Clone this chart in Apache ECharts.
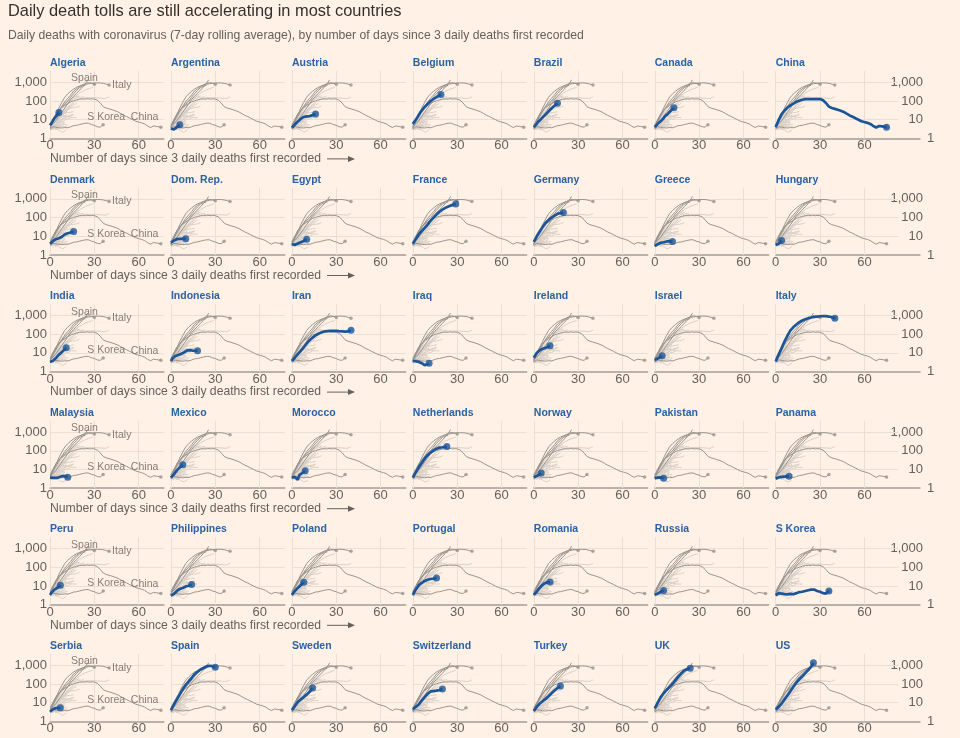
<!DOCTYPE html>
<html>
<head>
<meta charset="utf-8">
<script src="https://cdn.jsdelivr.net/npm/echarts@6/dist/echarts.min.js"></script>
<style>
html,body{margin:0;padding:0;background:#fff1e5;}
#c{width:960px;height:738px;}
</style>
</head>
<body>
<div id="c"></div>
<script>
// ---------- DATA (day since 3 daily deaths, 7-day avg daily deaths) ----------
const countries = ['Algeria','Argentina','Austria','Belgium','Brazil','Canada','China',
  'Denmark','Dom. Rep.','Egypt','France','Germany','Greece','Hungary',
  'India','Indonesia','Iran','Iraq','Ireland','Israel','Italy',
  'Malaysia','Mexico','Morocco','Netherlands','Norway','Pakistan','Panama',
  'Peru','Philippines','Poland','Portugal','Romania','Russia','S Korea',
  'Serbia','Spain','Sweden','Switzerland','Turkey','UK','US'];

const dAlgeria = [[0,5],[1,6.5],[2,9],[3,12],[4,15],[5,18],[6,24]];
const dArgentina = [[0,3.4],[1,3.1],[2,3.0],[3,3.4],[4,4],[5,4.6],[6,5.3]];
const dAustria = [[0,3.7],[1,4.5],[2,5.5],[3,7],[4,8],[5,9.5],[6,11],[7,12.5],[8,14],[9,15.5],[10,15],[11,16],[12,15.5],[13,17],[14,17.5],[15,18.5],[16,20]];
const dBelgium = [[0,6],[1,7.5],[2,10],[3,13],[4,18],[5,24],[6,31],[7,38],[8,48],[9,58],[10,70],[11,83],[12,100],[13,113],[14,130],[15,145],[16,160],[17,180],[18,200],[19,225]];
const dBrazil = [[0,4],[1,5],[2,6],[3,7.8],[4,9.5],[5,11],[6,13.5],[7,16],[8,20],[9,23],[10,28],[11,34],[12,40],[13,48],[14,55],[15,65],[16,75]];
const dCanada = [[0,4],[1,5],[2,6],[3,7],[4,8.2],[5,9],[6,12],[7,15.5],[8,18],[9,21],[10,26],[11,31],[12,37],[13,44]];
const dChina = [[0,4],[2,9.5],[4,20],[6,31],[8,45],[10,58],[12,72],[14,90],[16,103],[18,116],[20,126],[22,128],[24,127],[25,134],[27,126],[28,131],[30,127],[32,110],[34,78],[36,50],[38,42],[40,38],[42,34],[44,30],[46,26],[48,21],[50,17],[52,14.5],[54,12],[56,10],[58,8.3],[60,7.5],[62,6.8],[64,5.9],[66,4.6],[68,3.8],[70,4.6],[72,4.4],[75,4]];
const dDenmark = [[0,4],[1,4.8],[2,5.5],[3,6.5],[4,7],[5,7.5],[6,7.8],[7,8.5],[8,9.5],[9,11],[10,12.5],[11,14],[12,14.5],[13,15],[14,16],[15,17],[16,18]];
const dDomRep = [[0,4.5],[1,5.2],[2,6],[3,6.8],[4,7],[5,7.2],[6,7.3],[7,7.2],[8,7.3],[9,7.4],[10,7.5]];
const dEgypt = [[0,3.9],[1,3.7],[2,3.4],[3,3.6],[4,4.1],[5,4.5],[6,4.8],[7,5.2],[8,5.6],[9,6.2],[10,7]];
const dFrance = [[0,4],[2,7],[4,12.5],[6,19],[8,28],[10,42],[12,68],[14,100],[16,145],[18,205],[20,265],[22,330],[24,395],[26,450],[28,510],[29,540]];
const dGermany = [[0,5],[2,10],[4,18],[6,32],[8,52],[10,75],[12,100],[14,128],[16,160],[18,172],[20,185]];
const dGreece = [[0,3],[1,3.2],[2,3.8],[3,4.2],[4,4.5],[5,4.6],[6,4.8],[7,5],[8,5.3],[9,5.6],[10,5.5],[11,5.3],[12,5.2]];
const dHungary = [[0,3.4],[1,3.5],[2,4],[3,4.8],[4,5.9]];
const dIndia = [[0,3.3],[1,3.4],[2,3.8],[3,4.3],[4,5.3],[5,6.5],[6,8],[7,9.5],[8,11],[9,13],[10,16],[11,19]];
const dIndonesia = [[0,3.7],[1,5],[2,6],[3,6.8],[4,7.3],[5,7.8],[6,8.3],[7,9],[8,9.8],[9,10.8],[10,12],[11,13.5],[12,14.5],[13,14],[14,13.5],[15,13],[16,13],[17,12.8],[18,13]];
const dIran = [[0,3.7],[2,5.5],[4,8.5],[6,13],[8,20],[10,32],[12,48],[14,66],[16,86],[18,106],[20,125],[22,140],[24,148],[26,150],[28,149],[30,150],[32,145],[34,142],[36,138],[37,136],[38,140],[39,155],[40,165]];
const dIraq = [[0,3.7],[1,3.7],[2,3.6],[3,3.5],[4,3.3],[5,3],[6,2.8],[7,2.5],[8,2.2],[9,2.2],[10,2.5],[11,2.8]];
const dIreland = [[0,5.5],[1,7.5],[2,10],[3,12.5],[4,14],[5,15],[6,16.5],[7,17.5],[8,18.5],[9,20],[10,22],[11,24]];
const dIsrael = [[0,4.2],[1,4.5],[2,5],[3,5.3],[4,6],[5,7]];
const dItaly = [[0,3.5],[2,8],[4,18],[6,42],[8,85],[10,160],[12,240],[14,330],[16,440],[18,540],[20,630],[22,720],[24,780],[26,840],[28,880],[30,910],[32,930],[34,920],[36,880],[38,800],[40,720]];
const dMalaysia = [[0,3.7],[1,3.7],[2,3.6],[3,3.6],[4,3.5],[5,3.5],[6,3.8],[7,4.2],[8,4.4],[9,4.6],[10,4.4],[11,4.1],[12,3.9]];
const dMexico = [[0,3.7],[1,4.5],[2,5.5],[3,7],[4,9],[5,11],[6,13],[7,15.5],[8,18]];
const dMorocco = [[0,3.7],[1,3.8],[2,4],[3,4.2],[4,2.8],[5,5],[6,5.8],[7,6.5],[8,7.5],[9,8.5]];
const dNetherlands = [[0,3.7],[2,7],[4,13],[6,22],[8,38],[10,58],[12,80],[14,105],[16,130],[18,148],[20,155],[22,165],[23,170]];
const dNorway = [[0,3.9],[1,4.1],[2,4.5],[3,5],[4,5.6],[5,6.4]];
const dPakistan = [[0,3.4],[1,3.5],[2,3.7],[3,4.2],[4,3.8],[5,3.5],[6,3.4]];
const dPanama = [[0,3.2],[1,3.5],[2,3.8],[3,3.9],[4,4],[5,4.1],[6,4.2],[7,4.2],[8,4.3],[9,4.3]];
const dPeru = [[0,3.4],[1,4.5],[2,5.5],[3,6.5],[4,7.5],[5,8],[6,9.5],[7,11]];
const dPhilippines = [[0,3],[1,3.3],[2,3.8],[3,4.5],[4,5.5],[5,6.3],[6,7],[7,7.5],[8,8],[9,8.5],[10,9.5],[11,11],[12,10.5],[13,11.5],[14,12.3]];
const dPoland = [[0,3.4],[1,4.3],[2,5.5],[3,6.5],[4,8],[5,9.5],[6,11],[7,13.5],[8,16]];
const dPortugal = [[0,3.4],[1,4.8],[2,6.5],[3,8.5],[4,11],[5,13],[6,15],[7,17],[8,19],[9,20.5],[10,22],[11,23],[12,24],[13,24.5],[14,25],[15,26],[16,27]];
const dRomania = [[0,3.4],[1,4.2],[2,5],[3,6.5],[4,8],[5,10],[6,12],[7,13.5],[8,15],[9,16],[10,16.5],[11,16.5]];
const dRussia = [[0,3.4],[1,3.7],[2,4],[3,4.5],[4,5],[5,5.5],[6,5.9]];
const dSKorea = [[0,3.2],[2,4.2],[4,4],[6,3.7],[8,3.6],[10,3.8],[12,3.7],[14,4.2],[16,4.8],[18,5],[20,5.5],[22,6],[24,6.5],[26,6.5],[28,5.5],[30,5],[32,4.2],[34,4],[36,5.4]];
const dSerbia = [[0,3.3],[1,3.8],[2,4.5],[3,5],[4,5.2],[5,5],[6,5.2],[7,5.4]];
const dSpain = [[0,4],[2,8],[4,15],[6,28],[8,52],[10,90],[12,140],[14,210],[16,340],[18,450],[20,600],[22,720],[24,870],[26,950],[28,900],[30,790]];
const dSweden = [[0,4],[1,5],[2,6.5],[3,8.5],[4,11],[5,13],[6,15],[7,17],[8,20],[9,23],[10,27],[11,31],[12,38],[13,48],[14,62]];
const dSwitzerland = [[0,4.5],[1,5.2],[2,6],[3,7],[4,8],[5,10],[6,13],[7,16],[8,20],[9,25],[10,30],[11,35],[12,40],[13,41],[14,42],[15,43],[16,44],[17,45],[18,47],[19,50],[20,54]];
const dTurkey = [[0,3.6],[2,6],[4,9],[6,12],[8,16],[10,22],[12,32],[14,45],[16,60],[18,78]];
const dUK = [[0,5],[2,10],[4,20],[6,32],[8,48],[10,70],[12,100],[14,160],[16,250],[18,370],[20,520],[22,620],[24,690]];
const dUS = [[0,4.4],[2,6],[4,9],[6,15],[8,25],[10,42],[12,72],[14,120],[16,180],[18,260],[20,380],[22,560],[24,850],[25.5,1350]];

const seriesData = [dAlgeria,dArgentina,dAustria,dBelgium,dBrazil,dCanada,dChina,
  dDenmark,dDomRep,dEgypt,dFrance,dGermany,dGreece,dHungary,
  dIndia,dIndonesia,dIran,dIraq,dIreland,dIsrael,dItaly,
  dMalaysia,dMexico,dMorocco,dNetherlands,dNorway,dPakistan,dPanama,
  dPeru,dPhilippines,dPoland,dPortugal,dRomania,dRussia,dSKorea,
  dSerbia,dSpain,dSweden,dSwitzerland,dTurkey,dUK,dUS];

const darkCountries = ['Spain','Italy','US','UK','China','S Korea'];
const dotCountries = ['Spain','Italy','China','S Korea'];
const xTicks = [0,30,60];
const yTicks = [1,10,100,1000];
const titleText = 'Daily death tolls are still accelerating in most countries';
const subtitleText = 'Daily deaths with coronavirus (7-day rolling average), by number of days since 3 daily deaths first recorded';
const xNameText = 'Number of days since 3 daily deaths first recorded';

// ---------- LAYOUT / STYLE ----------
const FONT = '"Liberation Sans", Arial, sans-serif';
const BG = '#fff1e5', BLUE = '#1c5597', TBLUE = '#2a62a5', DARK = '#9a948f', LIGHT = '#d8cfc7';
const GRIDC = '#eadfd5', AXISC = '#a39c96', TXT = '#66605c';
const COLS = 7;
const X0 = 50, COLW = 120.95, PXDAY = 1.478, BASE0 = 138.4, ROWH = 116.6, DEC = 18.7, YMAX = 4000;
const XMAX = 77, XMAX_LAST = 97.6, XGRID_LAST = 83;

const byName = n => seriesData[countries.indexOf(n)];
const lastPt = a => a[a.length - 1];
const ptAt = (a, d) => a.find(p => p[0] === d);

const option = {
  backgroundColor: BG, animation: false,
  grid: [], xAxis: [], yAxis: [], series: [],
  graphic: [
    {type:'text', x:8, y:11, silent:true, style:{text:titleText, fill:'#33302e', fontSize:16.4, fontFamily:FONT, verticalAlign:'middle'}},
    {type:'text', x:8, y:36, silent:true, style:{text:subtitleText, fill:TXT, fontSize:12.2, fontFamily:FONT, verticalAlign:'middle'}}
  ]
};

const h = Math.log10(YMAX) * DEC;
const bgOrder = countries.map((n,k)=>k).sort((a,b)=> (darkCountries.includes(countries[a])?1:0) - (darkCountries.includes(countries[b])?1:0));

countries.forEach((name, i) => {
  const r = Math.floor(i / COLS), c = i % COLS;
  const last = c === COLS - 1, first = c === 0;
  const xmax = last ? XMAX_LAST : XMAX;
  const left = X0 + c * COLW;
  const base = BASE0 + r * ROWH;
  option.grid.push({left: left, top: base - h, width: xmax * PXDAY, height: h, containLabel: false, outerBoundsMode: 'none'});
  option.xAxis.push({
    gridIndex: i, type: 'value', min: 0, max: xmax, interval: 30,
    axisLine: {show: true, onZero: false, lineStyle: {color: AXISC, width: 1.5}},
    axisTick: {show: false}, splitLine: {show: false},
    axisLabel: {color: TXT, fontSize: 13, fontFamily: FONT, margin: 1, showMaxLabel: false,
      formatter: v => xTicks.includes(v) ? String(v) : ''}
  });
  const yi = option.yAxis.length;
  const fmt = v => { const n = Math.round(v); return yTicks.includes(n) ? n.toLocaleString('en-US') : ''; };
  option.yAxis.push({
    gridIndex: i, type: 'log', logBase: 10, min: 1, max: YMAX, position: last ? 'right' : 'left',
    axisLine: {show: false}, axisTick: {show: false}, splitLine: {show: false},
    axisLabel: {show: first || last, color: TXT, fontSize: 13, fontFamily: FONT,
      margin: 3, align: 'right', showMaxLabel: false,
      formatter: last ? (v => Math.round(v) === 1 ? '' : fmt(v)) : fmt}
  });
  if (last) {
    option.yAxis.push({
      gridIndex: i, type: 'log', logBase: 10, min: 1, max: YMAX, position: 'right',
      axisLine: {show: false}, axisTick: {show: false}, splitLine: {show: false},
      axisLabel: {show: true, color: TXT, fontSize: 13, fontFamily: FONT, margin: 7, align: 'left', showMaxLabel: false,
        formatter: v => Math.round(v) === 1 ? '1' : ''}
    });
  }
  const xEnd = last ? XGRID_LAST : XMAX;
  const gridLines = yTicks.filter(t => t > 1).map(t => [{coord: [0, t]}, {coord: [xEnd, t]}])
    .concat(xTicks.map(t => [{coord: [t, 1]}, {coord: [t, YMAX]}]));

  // background: all countries
  option.series.push({
    type: 'lines', coordinateSystem: 'cartesian2d', xAxisIndex: i, yAxisIndex: yi,
    polyline: true, silent: true, z: 2,
    data: bgOrder.map(k => {
      const dk = darkCountries.includes(countries[k]);
      return {coords: seriesData[k], lineStyle: {color: dk ? DARK : LIGHT, width: 1, opacity: 1}};
    })
  });
  option.series.push({
    type: 'scatter', xAxisIndex: i, yAxisIndex: yi, silent: true, z: 3,
    symbolSize: 3.5, itemStyle: {color: DARK},
    data: dotCountries.map(n => lastPt(byName(n)))
  });
  // highlighted country
  option.series.push({
    type: 'line', xAxisIndex: i, yAxisIndex: yi, silent: true, z: 5,
    data: seriesData[i], symbol: 'none', showSymbol: false,
    lineStyle: {color: BLUE, width: 2.7},
    markLine: {silent: true, z: 1, symbol: ['none', 'none'], label: {show: false},
      lineStyle: {color: GRIDC, width: 1, type: 'solid'}, emphasis: {disabled: true}, animation: false,
      data: gridLines}
  });
  option.series.push({
    type: 'scatter', xAxisIndex: i, yAxisIndex: yi, silent: true, z: 6,
    symbolSize: 7, itemStyle: {color: BLUE}, data: [lastPt(seriesData[i])]
  });
  if (first) {
    const lab = (txt, pos, dist, off) => ({show: true, formatter: txt, position: pos, distance: dist, offset: off || [0,0],
      color: TXT, fontSize: 10.5, fontFamily: FONT});
    option.series.push({
      type: 'scatter', xAxisIndex: i, yAxisIndex: yi, silent: true, z: 7, symbolSize: 0,
      data: [
        {value: ptAt(dSpain, 22), label: lab('Spain', 'top', 1, [2, 0])},
        {value: lastPt(dItaly), label: lab('Italy', 'right', 3)},
        {value: lastPt(dSKorea), label: lab('S Korea', 'top', 2, [3, 0])},
        {value: ptAt(dChina, 64), label: lab('China', 'top', 1)}
      ]
    });
  }
  option.graphic.push({type: 'text', x: left, y: base - 75.2, silent: true,
    style: {text: name, fill: TBLUE, fontSize: 10.5, fontWeight: 'bold', fontFamily: FONT, verticalAlign: 'middle'}});
  if (first && r < 5) {
    const yy = base + 20.5;
    option.graphic.push({type: 'text', x: 50, y: yy, silent: true,
      style: {text: xNameText, fill: TXT, fontSize: 12.2, fontFamily: FONT, verticalAlign: 'middle'}});
    option.graphic.push({type: 'polyline', silent: true, shape: {points: [[327, yy], [351, yy]]}, style: {stroke: TXT, lineWidth: 1}});
    option.graphic.push({type: 'polygon', silent: true, shape: {points: [[348, yy - 3], [355, yy], [348, yy + 3]]}, style: {fill: TXT}});
  }
});

const chart = echarts.init(document.getElementById('c'), null, {renderer: 'canvas'});
chart.setOption(option);
</script>
</body>
</html>
